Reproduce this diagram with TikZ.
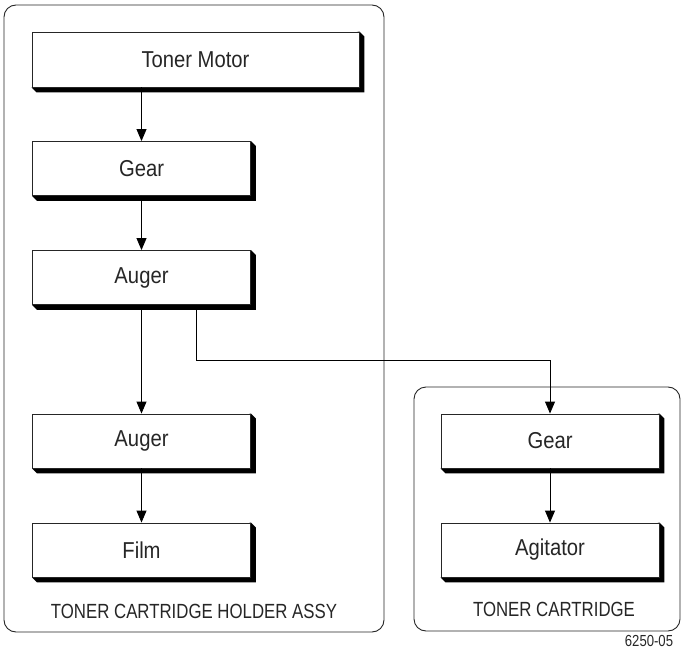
\documentclass[tikz,border=0pt]{standalone}
\usepackage{fontspec}
\setmainfont{Liberation Sans}[FakeStretch=0.82]
\newfontfamily\boxfont{Liberation Sans}[FakeStretch=0.88]
\usetikzlibrary{arrows.meta,backgrounds,calc}
\begin{document}
\begin{tikzpicture}[x=1pt,y=-1pt,
  blk/.style={draw=black!85,line width=0.9pt,fill=white,rectangle,inner sep=0pt,
    minimum width=218pt,minimum height=54pt,font=\boxfont\fontsize{23}{27}\selectfont,text=black!85},
  grp/.style={draw=black!85,line width=0.9pt,rounded corners=12pt},
  lbl/.style={font=\fontsize{20.5}{25}\selectfont,text=black!85},
  arr/.style={draw=black,line width=0.9pt,-{Triangle[width=10pt,length=12pt]}},
  ln/.style={draw=black,line width=0.9pt}]
\useasboundingbox (0,0) rectangle (682,652);
\node[blk,minimum width=327pt,minimum height=55pt] (tm) at (195.5,59.5) {Toner Motor};
\node[blk] (g1) at (141.5,168.5) {Gear};
\node[blk] (a1) at (141.5,277.5) {Auger};
\node[blk] (a2) at (141.5,441) {Auger};
\node[blk] (fm) at (141.5,550) {Film};
\node[blk] (g2) at (550,441) {Gear};
\node[blk] (ag) at (550,550) {Agitator};
\node[lbl] (l1) at (194,611) {TONER CARTRIDGE HOLDER ASSY};
\node[lbl] (l2) at (554,609) {TONER CARTRIDGE};
\node[font=\fontsize{16}{19}\selectfont,text=black!85] (id) at (649,641) {6250-05};
\begin{scope}[on background layer]
  \draw[grp] (4,5) rectangle (384,632);
  \draw[grp] (414,387) rectangle (680,631);
  \foreach \n in {tm,g1,a1,a2,fm,g2,ag}
    \fill[black] (\n.south west) -- ++(5,5) -- ($(\n.south east)+(5,5)$)
      -- ($(\n.north east)+(5,5)$) -- (\n.north east) -- cycle;
\end{scope}
\draw[arr] (g1.north |- tm.south) -- (g1.north);
\draw[arr] (g1.south) -- (a1.north);
\draw[arr] (a1.south) -- (a2.north);
\draw[arr] (a2.south) -- (fm.north);
\draw[arr] (g2.south) -- (ag.north);
\coordinate (tap) at ([xshift=54.5pt]a1.south);
\draw[arr] (tap) -- ++(0,55) -| (g2.north);
\end{tikzpicture}
\end{document}
